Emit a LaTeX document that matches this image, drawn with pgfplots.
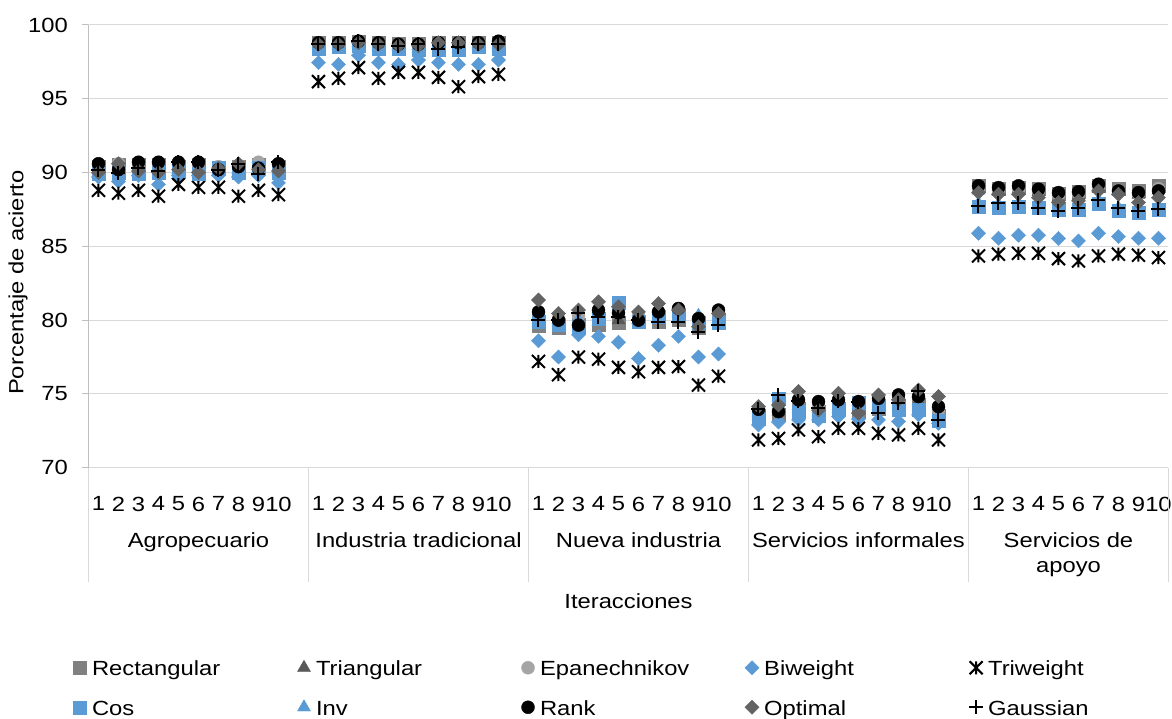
\documentclass[border=0pt]{standalone}
\usepackage{fontspec}
\setmainfont{Liberation Sans}[FakeStretch=1.16]
\usepackage{pgfplots}
\usepackage{pgfplotstable}
\pgfplotsset{compat=1.18}

\definecolor{cRect}{HTML}{808080}
\definecolor{cTri}{HTML}{595959}
\definecolor{cEpa}{HTML}{A5A5A5}
\definecolor{cBlue}{HTML}{5B9BD5}
\definecolor{cOpt}{HTML}{636363}
\definecolor{axisgray}{HTML}{BFBFBF}
\definecolor{gridgray}{HTML}{D9D9D9}

% Excel "star" marker: an x with a vertical bar
\pgfdeclareplotmark{xstar}{%
  \pgfpathmoveto{\pgfqpoint{-\pgfplotmarksize}{-\pgfplotmarksize}}%
  \pgfpathlineto{\pgfqpoint{\pgfplotmarksize}{\pgfplotmarksize}}%
  \pgfpathmoveto{\pgfqpoint{-\pgfplotmarksize}{\pgfplotmarksize}}%
  \pgfpathlineto{\pgfqpoint{\pgfplotmarksize}{-\pgfplotmarksize}}%
  \pgfpathmoveto{\pgfqpoint{0pt}{-\pgfplotmarksize}}%
  \pgfpathlineto{\pgfqpoint{0pt}{\pgfplotmarksize}}%
  \pgfusepathqstroke}

% x: slot (10 iterations per sector, one empty slot between sectors)
\pgfplotstableread{
x  rect tri  epa  biw   triw  cos  inv  rank  opt   gau
0  90.4 90.2 90.5 89.7  88.8  89.9 90.1 90.6  90.0  90.2
1  90.5 90.3 90.6 89.4  88.6  90.0 90.1 90.2  90.6  90.0
2  90.5 90.3 90.6 89.8  88.8  89.9 90.0 90.7  90.1  90.3
3  90.5 90.3 90.6 89.2  88.4  90.0 90.1 90.7  90.0  90.1
4  90.4 90.2 90.5 89.8  89.2  90.1 90.1 90.7  90.2  90.7
5  90.5 90.3 90.6 89.8  89.0  89.9 90.0 90.7  90.0  90.7
6  90.3 90.1 90.4 89.8  89.0  90.3 90.2 90.2  90.3  90.2
7  90.4 90.2 90.5 89.7  88.4  90.0 90.1 90.4  90.6  90.6
8  90.5 90.3 90.7 89.8  88.8  90.3 90.3 90.3  90.2  89.9
9  90.4 90.2 90.5 89.3  88.5  90.0 90.1 90.6  90.1  90.7
11 98.8 98.7 98.8 97.45 96.16 98.4 98.5 98.8  98.7  98.7
12 98.8 98.7 98.8 97.33 96.39 98.5 98.6 98.8  98.7  98.7
13 98.9 98.8 98.9 97.95 97.11 98.6 98.7 98.9  98.8  98.9
14 98.8 98.7 98.8 97.45 96.39 98.4 98.5 98.8  98.7  98.7
15 98.7 98.6 98.7 97.33 96.79 98.4 98.5 98.7  98.6  98.6
16 98.7 98.6 98.7 97.63 96.79 98.3 98.4 98.7  98.6  98.7
17 98.8 98.7 98.8 97.45 96.45 98.3 98.4 98.8  98.8  98.4
18 98.8 98.7 98.8 97.33 95.82 98.3 98.4 98.8  98.8  98.5
19 98.8 98.7 98.8 97.33 96.50 98.5 98.6 98.8  98.7  98.7
20 98.8 98.7 98.8 97.63 96.66 98.4 98.5 98.9  98.7  98.7
22 79.6 79.8 80.3 78.6  77.2  79.9 80.1 80.56 81.36 80.0
23 79.5 79.8 80.1 77.5  76.3  79.7 80.0 80.0  80.45 80.0
24 79.7 79.9 80.3 79.0  77.5  79.5 80.0 79.66 80.68 80.45
25 79.7 79.9 80.5 78.9  77.35 80.1 80.3 80.68 81.24 80.23
26 79.8 80.0 80.9 78.5  76.8  81.2 80.6 80.5  80.9  80.23
27 79.9 80.0 80.3 77.4  76.5  79.9 80.0 80.0  80.56 80.0
28 79.9 80.0 80.5 78.3  76.8  80.2 80.4 80.56 81.13 79.89
29 80.0 80.1 80.6 78.9  76.85 80.4 80.5 80.79 80.68 79.89
30 79.5 79.6 79.8 77.5  75.6  79.8 80.3 80.1  79.55 79.2
31 80.0 80.1 80.5 77.7  76.2  79.8 80.2 80.68 80.45 79.66
33 73.5 73.7 73.8 72.9  71.88 73.3 73.5 73.96 74.14 73.96
34 73.6 73.8 73.9 73.1  71.98 74.7 74.4 73.8  74.25 74.93
35 74.0 74.2 74.5 73.24 72.56 73.8 74.0 74.6  75.16 74.5
36 73.8 74.0 74.2 73.24 72.1  73.5 73.7 74.48 73.9  74.03
37 74.0 74.2 74.4 73.46 72.67 73.9 74.0 74.6  75.04 74.5
38 73.8 74.0 74.2 73.3  72.67 74.4 74.3 74.48 73.69 74.48
39 74.0 74.2 74.5 73.24 72.33 74.2 74.4 74.7  74.93 73.69
40 74.2 74.3 74.6 73.13 72.22 73.9 74.2 74.93 74.6  74.37
41 74.3 74.5 74.8 73.58 72.67 73.9 74.1 74.82 75.27 75.2
42 73.5 73.7 73.9 73.0  71.88 73.2 73.4 74.14 74.82 73.24
44 89.1 88.8 88.9 85.89 84.35 87.7 87.9 89.1  88.64 87.74
45 88.9 88.7 88.8 85.55 84.47 87.6 87.8 88.98 88.53 87.97
46 89.0 88.8 88.9 85.75 84.53 87.7 87.9 89.1  88.53 87.97
47 88.9 88.7 88.8 85.75 84.53 87.6 87.8 88.87 88.3  87.63
48 88.6 88.3 88.5 85.53 84.17 87.5 87.7 88.64 87.97 87.4
49 88.7 88.4 88.6 85.37 84.01 87.5 87.7 88.7  88.08 87.63
50 89.1 88.9 89.0 85.89 84.35 87.9 88.1 89.21 88.76 88.15
51 88.9 88.7 88.8 85.66 84.47 87.4 87.6 88.76 88.53 87.63
52 88.8 88.5 88.6 85.55 84.4  87.3 87.5 88.64 87.97 87.4
53 89.1 88.8 88.9 85.55 84.24 87.5 87.7 88.76 88.3  87.52
}\datos

\newcommand{\leg}[1]{\hspace{5pt}\makebox[205pt][l]{\rule[-3pt]{0pt}{20pt}#1}}
\newcommand{\chartfont}{\fontsize{20.5}{25}\selectfont}

\begin{document}
\begin{tikzpicture}[font=\chartfont]
\begin{axis}[
  at={(88.5pt,251.3pt)}, anchor=south west,
  width=1080pt, height=442.7pt, scale only axis,
  xmin=-0.5, xmax=53.5, ymin=70, ymax=100,
  ytick={70,75,...,100},
  xtick={0,1,2,3,4,5,6,7,8,9,11,12,13,14,15,16,17,18,19,20,22,23,24,25,26,27,28,29,30,31,33,34,35,36,37,38,39,40,41,42,44,45,46,47,48,49,50,51,52,53},
  xticklabels={1,2,3,4,5,6,7,8,9,10,1,2,3,4,5,6,7,8,9,10,1,2,3,4,5,6,7,8,9,10,1,2,3,4,5,6,7,8,9,10,1,2,3,4,5,6,7,8,9,10},
  axis x line*=bottom, axis y line*=left,
  x axis line style={draw=gridgray, line width=1pt, -},
  y axis line style={draw=axisgray, line width=1pt, -},
  ymajorgrids, major grid style={draw=gridgray, line width=1pt},
  xtick style={draw=none},
  ytick style={draw=axisgray, line width=1pt},
  major tick length=6.5pt, tick align=outside,
  /pgf/number format/assume math mode=true,
  tick label style={font=\chartfont},
  xticklabel style={inner sep=0pt, yshift=-22.3pt},
  yticklabel style={inner sep=0pt, xshift=-14pt},
  clip=false,
  legend columns=5,
  legend cell align=left,
  legend style={draw=none, fill=none, inner sep=0pt, outer sep=0pt,
    at={(-0.01435,-0.431)}, anchor=north west, row sep=21pt,
    nodes={inner sep=0pt}, font=\chartfont},
  legend image code/.code={%
    \path[draw=none, fill=none] (0pt,-7pt) rectangle (14pt,7pt);
    \draw[#1] plot coordinates {(7pt,0pt)};},
]
\addplot[only marks, mark=square*, mark size=6.5pt, color=cRect] table[x=x,y=rect]{\datos};
\addlegendentry{\leg{Rectangular}}
\addplot[only marks, mark=triangle*, mark size=7.5pt, color=cTri] table[x=x,y=tri]{\datos};
\addlegendentry{\leg{Triangular}}
\addplot[only marks, mark=*, mark size=6.5pt, color=cEpa] table[x=x,y=epa]{\datos};
\addlegendentry{\leg{Epanechnikov}}
\addplot[only marks, mark=square*, mark size=5pt, mark options={rotate=45}, color=cBlue] table[x=x,y=biw]{\datos};
\addlegendentry{\leg{Biweight}}
\addplot[only marks, mark=xstar, mark size=6.5pt, mark options={line width=2pt}, color=black] table[x=x,y=triw]{\datos};
\addlegendentry{\leg{Triweight}}
\addplot[only marks, mark=square*, mark size=6.5pt, color=cBlue] table[x=x,y=cos]{\datos};
\addlegendentry{\leg{Cos}}
\addplot[only marks, mark=triangle*, mark size=7.5pt, color=cBlue] table[x=x,y=inv]{\datos};
\addlegendentry{\leg{Inv}}
\addplot[only marks, mark=*, mark size=6.5pt, color=black] table[x=x,y=rank]{\datos};
\addlegendentry{\leg{Rank}}
\addplot[only marks, mark=square*, mark size=5pt, mark options={rotate=45}, color=cOpt] table[x=x,y=opt]{\datos};
\addlegendentry{\leg{Optimal}}
\addplot[only marks, mark=+, mark size=7pt, mark options={line width=2pt}, color=black] table[x=x,y=gau]{\datos};
\addlegendentry{\leg{Gaussian}}

% separators of the sector axis
\pgfplotsinvokeforeach{-0.5,10.5,21.5,32.5,43.5,53.5}{
  \draw[gridgray, line width=1pt] (axis cs:#1,70) -- ++(0pt,-114pt);
}

\node[anchor=base] at (axis cs:5,70) [yshift=-79.8pt] {Agropecuario};
\node[anchor=base] at (axis cs:16,70) [yshift=-79.8pt] {Industria tradicional};
\node[anchor=base] at (axis cs:27,70) [yshift=-79.8pt] {Nueva industria};
\node[anchor=base] at (axis cs:38,70) [yshift=-79.8pt] {Servicios informales};
\node[anchor=base] at (axis cs:48.5,70) [yshift=-79.8pt] {Servicios de};
\node[anchor=base] at (axis cs:48.5,70) [yshift=-104.5pt] {apoyo};
\node[anchor=base] at (axis description cs:0.5,0) [yshift=-140.6pt] {Iteracciones};
\node[rotate=90] at (axis description cs:-0.06528,0.4183) {Porcentaje de acierto};
\end{axis}
\pgfresetboundingbox
\path (0pt,0pt) rectangle (1172pt,719pt);
\end{tikzpicture}
\end{document}
